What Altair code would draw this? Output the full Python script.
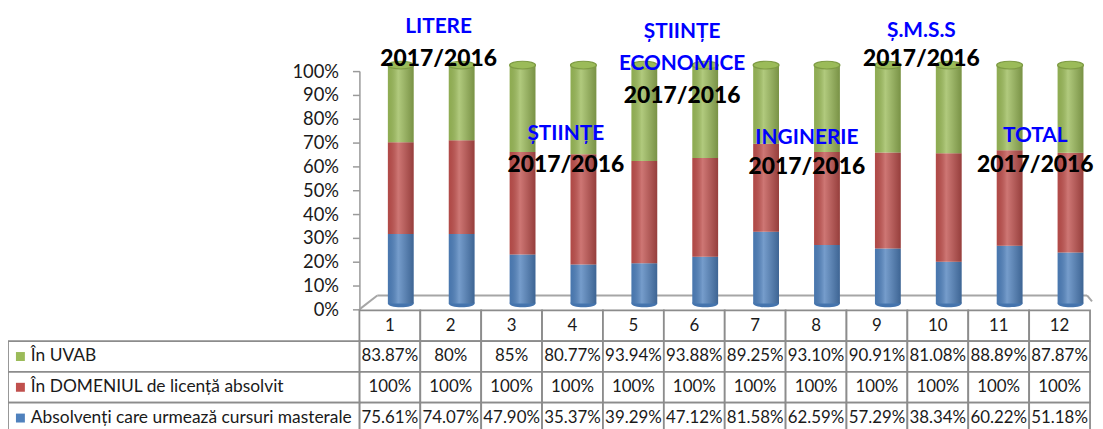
import altair as alt
import pandas as pd

# ---------------- data ----------------
categories = [str(i) for i in range(1, 13)]
in_uvab = [83.87, 80, 85, 80.77, 93.94, 93.88, 89.25, 93.10, 90.91, 81.08, 88.89, 87.87]
in_domeniu = [100, 100, 100, 100, 100, 100, 100, 100, 100, 100, 100, 100]
absolventi = [75.61, 74.07, 47.90, 35.37, 39.29, 47.12, 81.58, 62.59, 57.29, 38.34, 60.22, 51.18]

series_names = ["Absolvenți care urmează cursuri masterale",
                "În DOMENIUL de licență absolvit",
                "În UVAB"]
series_colors = ["#4F81BD", "#C0504D", "#9BBB59"]

group_names = ["LITERE", "ȘTIINȚE", "ȘTIINȚE", "ECONOMICE", "INGINERIE", "Ș.M.S.S", "TOTAL"]
period_label = "2017/2016"

# annotation placement (category units / fraction of axis)
name_x = [1.30, 3.39, 5.30, 5.30, 7.35, 9.23, 11.10]
name_y = [1.183, 0.7375, 1.1625, 1.031, 0.719, 1.169, 0.726]
period_x = [1.30, 3.39, 5.30, 7.35, 9.23, 11.10]
period_y = [1.05, 0.604, 0.896, 0.597, 1.052, 0.604]

FONT = "Lato"


def fmt(v):
    return f"{int(v)}%" if float(v).is_integer() else f"{v:.2f}%"


series_values = [absolventi, in_domeniu, in_uvab]
long_rows = []
for k, (name, vals) in enumerate(zip(series_names, series_values)):
    for c, v in zip(categories, vals):
        long_rows.append({"cat": c, "series": name, "value": v, "order": k})
df_long = pd.DataFrame(long_rows)
df_cats = pd.DataFrame({"cat": categories})

row_keys = ["num", "UVAB", "DOM", "ABS"]
table_rows = []
for i, c in enumerate(categories):
    table_rows.append({"cat": c, "row": "num", "txt": c})
    table_rows.append({"cat": c, "row": "UVAB", "txt": fmt(in_uvab[i])})
    table_rows.append({"cat": c, "row": "DOM", "txt": fmt(in_domeniu[i])})
    table_rows.append({"cat": c, "row": "ABS", "txt": fmt(absolventi[i])})
df_table = pd.DataFrame(table_rows)

df_labels = pd.DataFrame({
    "row": ["UVAB", "DOM", "ABS"],
    "label": [series_names[2], series_names[1], series_names[0]],
    "col": [series_colors[2], series_colors[1], series_colors[0]],
})

df_names = pd.DataFrame({"t": group_names, "ax": name_x, "ay": name_y})
df_periods = pd.DataFrame({"t": [period_label] * len(period_x), "ax": period_x, "ay": period_y})

# ---------------- scales / encodings ----------------
x_band = alt.Scale(domain=categories, paddingInner=0, paddingOuter=0)
y_pct = alt.Scale(domain=[0, 1], nice=False, zero=True)
y_axis = alt.Axis(values=[i / 10 for i in range(11)], format="%", labelFont=FONT,
                  labelFontSize=18.5, labelColor="#1a1a1a", tickColor="#9a9a9a",
                  tickSize=7, tickWidth=1.5, domainColor="#9a9a9a", domainWidth=1.5,
                  labelPadding=14, grid=False, title=None)
x_enc = alt.X("cat:N", scale=x_band, axis=None)

OFFX, OFFY = 11, -6
one = pd.DataFrame({"a": [0]})

floor_color = "#a6a6a6"
floor_left = alt.Chart(one).mark_rule(color=floor_color, strokeWidth=2).encode(
    x=alt.value(0), y=alt.value(240), x2=alt.value(18), y2=alt.value(226))
floor_back = alt.Chart(one).mark_rule(color=floor_color, strokeWidth=2).encode(
    x=alt.value(18), y=alt.value(226), x2=alt.value(733), y2=alt.value(226))
floor_right = alt.Chart(one).mark_rule(color=floor_color, strokeWidth=2).encode(
    x=alt.value(733), y=alt.value(226), x2=alt.value(738), y2=alt.value(232))

ellipse = "M -1 0 A 1 0.3 0 1 1 1 0 A 1 0.3 0 1 1 -1 0 Z"

bottom_caps = alt.Chart(df_cats).mark_point(
    shape=ellipse, size=676, filled=True, opacity=1, color="#4574ad",
    xOffset=OFFX, yOffset=OFFY).encode(
    x=x_enc, y=alt.Y(datum=0, type="quantitative", scale=y_pct, axis=y_axis))

bars = alt.Chart(df_long).mark_bar(
    size=26, xOffset=OFFX, x2Offset=OFFX, yOffset=OFFY, y2Offset=OFFY).encode(
    x=x_enc,
    y=alt.Y("value:Q", stack="normalize", scale=y_pct, axis=y_axis),
    color=alt.Color("series:N", scale=alt.Scale(domain=series_names, range=series_colors),
                    legend=None),
    order=alt.Order("order:Q"),
)

shade = alt.LinearGradient(
    gradient="linear", x1=0, x2=1, y1=0, y2=0,
    stops=[alt.GradientStop(color="rgba(0,0,0,0.08)", offset=0),
           alt.GradientStop(color="rgba(255,255,255,0.22)", offset=0.4),
           alt.GradientStop(color="rgba(0,0,0,0.22)", offset=1)])
overlay = alt.Chart(df_long).mark_bar(
    size=26, color=shade, xOffset=OFFX, x2Offset=OFFX, yOffset=OFFY, y2Offset=OFFY).encode(
    x=x_enc,
    y=alt.Y("value:Q", stack="normalize", scale=y_pct, axis=y_axis),
    detail="series:N",
    order=alt.Order("order:Q"),
)

top_caps = alt.Chart(df_cats).mark_point(
    shape=ellipse, size=676, filled=True, opacity=1, color="#9BBB59",
    stroke="#7e9b44", strokeWidth=1.2, xOffset=OFFX, yOffset=OFFY).encode(
    x=x_enc, y=alt.Y(datum=1, type="quantitative", scale=y_pct, axis=y_axis))

plot = alt.layer(floor_left, floor_back, floor_right, bottom_caps, bars, overlay, top_caps)

# ---------------- table ----------------
t_y = alt.Y("row:N", scale=alt.Scale(domain=row_keys, range=[241, 365],
                                     paddingInner=0, paddingOuter=0), axis=None)
cell_style = dict(fill="white", stroke="#8c8c8c", strokeWidth=1.8)
cells = alt.Chart(df_table).mark_rect(**cell_style).encode(x=x_enc, y=t_y)
cell_txt = alt.Chart(df_table).mark_text(font=FONT, fontSize=17, color="#1a1a1a").encode(
    x=x_enc, y=t_y, text="txt:N")
label_cells = alt.Chart(df_labels).mark_rect(**cell_style).encode(
    x=alt.value(-354), x2=alt.value(0), y=t_y)
label_txt = alt.Chart(df_labels).mark_text(font=FONT, fontSize=17.5, color="#1a1a1a",
                                           align="left").encode(
    x=alt.value(-331), y=t_y, text="label:N")
label_sq = alt.Chart(df_labels).mark_square(size=81, filled=True, opacity=1).encode(
    x=alt.value(-341.5), y=t_y, color=alt.Color("col:N", scale=None, legend=None))
table = alt.layer(cells, cell_txt, label_cells, label_txt, label_sq)

# ---------------- annotations ----------------
ann_x = alt.X("ax:Q", scale=alt.Scale(domain=[0, 12], nice=False, zero=False), axis=None)
ann_y = alt.Y("ay:Q", scale=y_pct, axis=None)
names_txt = alt.Chart(df_names).mark_text(
    font=FONT, fontWeight="bold", fontSize=21, color="#0000FF", baseline="middle").encode(
    x=ann_x, y=ann_y, text="t:N")
periods_txt = alt.Chart(df_periods).mark_text(
    font=FONT, fontWeight=900, fontSize=23, color="#000000", baseline="middle").encode(
    x=ann_x, y=ann_y, text="t:N")
annot = alt.layer(names_txt, periods_txt)

chart = alt.layer(plot, table, annot).resolve_scale(
    x="independent", y="independent", color="independent"
).properties(
    width=736, height=240,
    autosize=alt.AutoSizeParams(type="none"),
    padding={"left": 354, "top": 62, "right": 5, "bottom": 125},
).configure_view(stroke=None)

chart.save("out.html", embed_options={"renderer": "svg", "actions": False})
